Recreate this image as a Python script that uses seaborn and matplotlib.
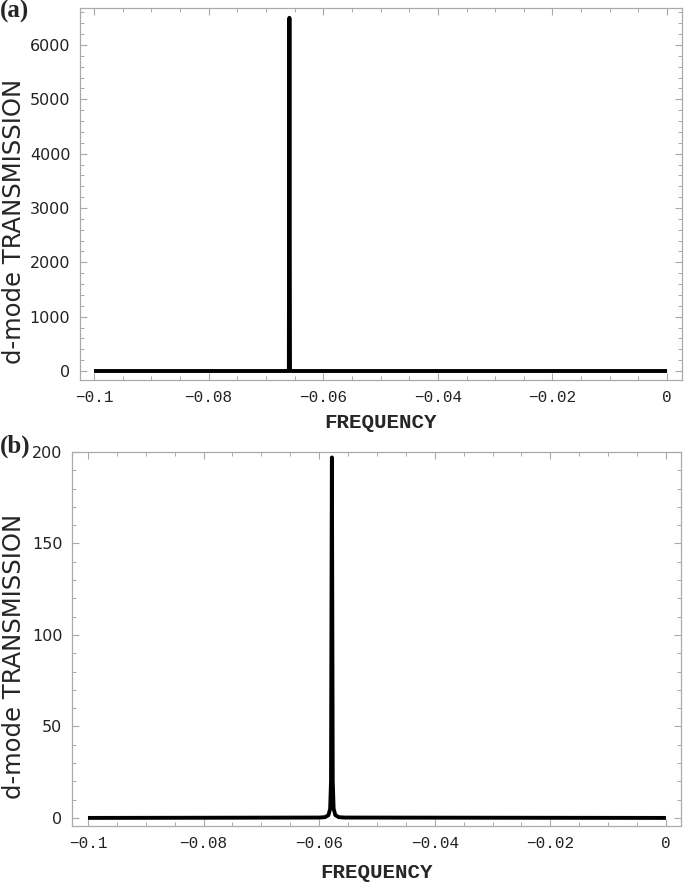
import pandas as pd
import matplotlib.pyplot as plt
import seaborn as sns
from matplotlib.ticker import MultipleLocator, FuncFormatter

# Panel (a) transmission curve
freq_a = [-0.1, -0.0661, -0.0660, -0.0659, -0.0658, -0.0657, 0.0]
trans_a = [0, 0, 20, 6500, 20, 0, 0]

# Panel (b) transmission curve
freq_b = [-0.1, -0.0600, -0.0590, -0.0584, -0.0581, -0.05795, -0.0578,
          -0.05765, -0.0575, -0.0572, -0.0566, -0.0556, 0.0]
trans_b = [0, 0.2, 0.4, 1.5, 5, 20, 197, 20, 5, 1.5, 0.4, 0.2, 0]

xticks = [-0.1, -0.08, -0.06, -0.04, -0.02, 0]
xticklabels = ["-0.1", "-0.08", "-0.06", "-0.04", "-0.02", "0"]

sns.set_style("ticks")
plt.rcParams["font.family"] = ["DejaVu Sans"]

fig = plt.figure(figsize=(6.85, 8.85), dpi=100)
ax_a = fig.add_axes([0.1168, 0.5706, 0.8788, 0.4204])
ax_b = fig.add_axes([0.1051, 0.0667, 0.8890, 0.4226])

df_a = pd.DataFrame({"freq": freq_a, "trans": trans_a})
df_b = pd.DataFrame({"freq": freq_b, "trans": trans_b})

gray = "#aaaaaa"


def style(ax, ylim, ymajor, yminor, xlim, xlabelpad, ylab_xy):
    ax.set_xlim(*xlim)
    ax.set_ylim(*ylim)
    ax.set_xticks(xticks)
    ax.set_xticklabels([t.replace("-", "\u2212") for t in xticklabels],
                       family="Liberation Mono", fontsize=11.5)
    ax.xaxis.set_minor_locator(MultipleLocator(0.005))
    ax.yaxis.set_major_locator(MultipleLocator(ymajor))
    ax.yaxis.set_minor_locator(MultipleLocator(yminor))
    ax.yaxis.set_major_formatter(FuncFormatter(lambda v, p: f"{v:.0f}"))
    for lab in ax.get_yticklabels():
        lab.set_fontsize(11.5)
    ax.tick_params(which="both", direction="in", top=True, right=True,
                   color=gray, labelcolor="#222222")
    ax.tick_params(which="major", length=5, width=0.8)
    ax.tick_params(which="minor", length=3, width=0.7)
    ax.tick_params(axis="x", pad=7)
    ax.tick_params(axis="y", pad=7)
    for s in ax.spines.values():
        s.set_color(gray)
        s.set_linewidth(0.9)
    ax.set_xlabel("FREQUENCY", family="Liberation Mono", fontweight="bold",
                  fontsize=15, labelpad=xlabelpad)
    ax.set_ylabel("d-mode TRANSMISSION", fontsize=17.5)
    ax.yaxis.set_label_coords(*ylab_xy)


sns.lineplot(data=df_a, x="freq", y="trans", ax=ax_a, color="black",
             linewidth=2.8, solid_capstyle="butt")
style(ax_a, (-166, 6681), 1000, 200, (-0.10244, 0.0026), 6, (-0.0897, 0.425))

sns.lineplot(data=df_b, x="freq", y="trans", ax=ax_b, color="black",
             linewidth=2.8, solid_capstyle="butt")
style(ax_b, (-4.4, 200), 50, 10, (-0.10277, 0.0026), 9, (-0.0755, 0.452))

fig.text(0.0, 1.0, "(a)", family="Liberation Serif", fontweight="bold",
         fontsize=18, ha="left", va="top")
fig.text(0.0, 0.509, "(b)", family="Liberation Serif", fontweight="bold",
         fontsize=18, ha="left", va="top")

fig.savefig("out.png", dpi=100)
